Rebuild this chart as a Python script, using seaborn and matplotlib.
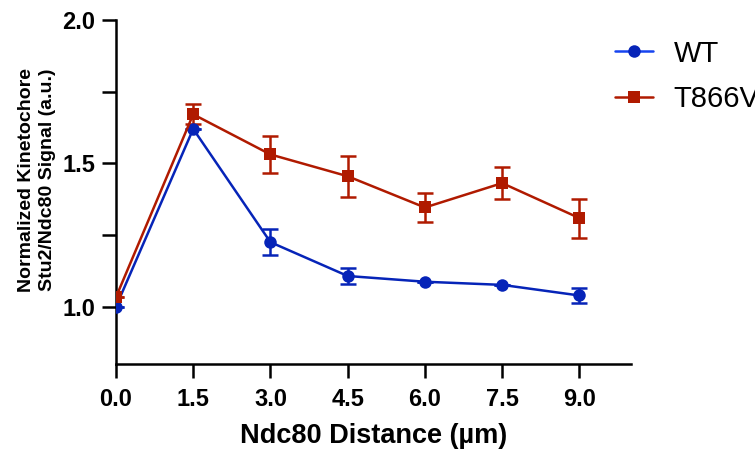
import pandas as pd
import matplotlib.pyplot as plt
import seaborn as sns
import numpy as np

# Values (mean +/- SEM)
distance = [0.0, 1.5, 3.0, 4.5, 6.0, 7.5, 9.0]
wt_mean = [1.00, 1.62, 1.225, 1.107, 1.087, 1.076, 1.039]
wt_sem = [0.0, 0.0, 0.045, 0.027, 0.0, 0.0, 0.025]
t866v_mean = [1.033, 1.671, 1.531, 1.455, 1.346, 1.431, 1.309]
t866v_sem = [0.0, 0.035, 0.063, 0.072, 0.050, 0.055, 0.068]
groups = ['WT', 'T866V']

colors = {'WT': '#0624b8', 'T866V': '#b01a00'}
legend_colors = {'WT': '#1744f0', 'T866V': '#b01a00'}
markers = {'WT': 'o', 'T866V': 's'}

df = pd.concat([
    pd.DataFrame({'distance': distance, 'signal': wt_mean, 'sem': wt_sem, 'group': 'WT'}),
    pd.DataFrame({'distance': distance, 'signal': t866v_mean, 'sem': t866v_sem, 'group': 'T866V'}),
], ignore_index=True)

sns.set_style('ticks')
plt.rcParams['font.family'] = ['Liberation Sans', 'DejaVu Sans']
plt.rcParams['text.color'] = 'black'
plt.rcParams['xtick.color'] = 'black'
plt.rcParams['ytick.color'] = 'black'
plt.rcParams['axes.labelcolor'] = 'black'

fig = plt.figure(figsize=(7.55, 4.57), dpi=100)
ax = fig.add_axes([0.1536, 0.2035, 0.682, 0.7527])

# error bars first, then lines/markers on top
for g in groups[::-1]:
    sub = df[df['group'] == g]
    ax.errorbar(sub['distance'], sub['signal'], yerr=sub['sem'], fmt='none',
                ecolor=colors[g], elinewidth=1.8, capsize=6, capthick=1.8, zorder=2)

sns.lineplot(data=df, x='distance', y='signal', hue='group', style='group',
             hue_order=groups, style_order=groups, palette=colors, markers=markers,
             dashes=False, markersize=9, markeredgewidth=0, linewidth=1.8,
             ax=ax, zorder=3, legend=False)

ax.set_xlim(0, 10)
ax.set_ylim(0.8, 2.0)
ax.set_xticks(distance)
ax.set_xticklabels([f'{d:.1f}' for d in distance])
ax.set_yticks([1.0, 1.5, 2.0])
ax.set_yticks([1.25, 1.75], minor=True)
ax.set_yticklabels(['1.0', '1.5', '2.0'])

for s in ['top', 'right']:
    ax.spines[s].set_visible(False)
for s in ['left', 'bottom']:
    ax.spines[s].set_linewidth(1.8)
    ax.spines[s].set_color('black')

ax.tick_params(axis='both', which='both', length=10, width=1.8, color='black')
ax.tick_params(axis='x', pad=7)
ax.tick_params(axis='y', pad=5)
for lab in ax.get_xticklabels() + ax.get_yticklabels():
    lab.set_fontsize(17)
    lab.set_fontweight('bold')
    lab.set_color('black')

ax.set_xlabel('Ndc80 Distance (µm)', fontsize=19.5, fontweight='bold', labelpad=9,
              color='black')
ax.set_ylabel('Normalized Kinetochore\nStu2/Ndc80 Signal (a.u.)', fontsize=14,
              fontweight='bold', linespacing=1.3, color='black')
ax.yaxis.set_label_coords(-0.116, 0.535)

# legend handles
handles = [plt.Line2D([], [], color=legend_colors[g], marker=markers[g], markersize=9,
                      markerfacecolor=colors[g], markeredgewidth=0, linewidth=1.8)
           for g in groups]
fig.legend(handles, groups, loc='upper left', bbox_to_anchor=(0.78, 0.971),
           frameon=False, fontsize=21, handlelength=1.3, handletextpad=0.7,
           labelspacing=0.6)

plt.savefig('out.png', dpi=100)
